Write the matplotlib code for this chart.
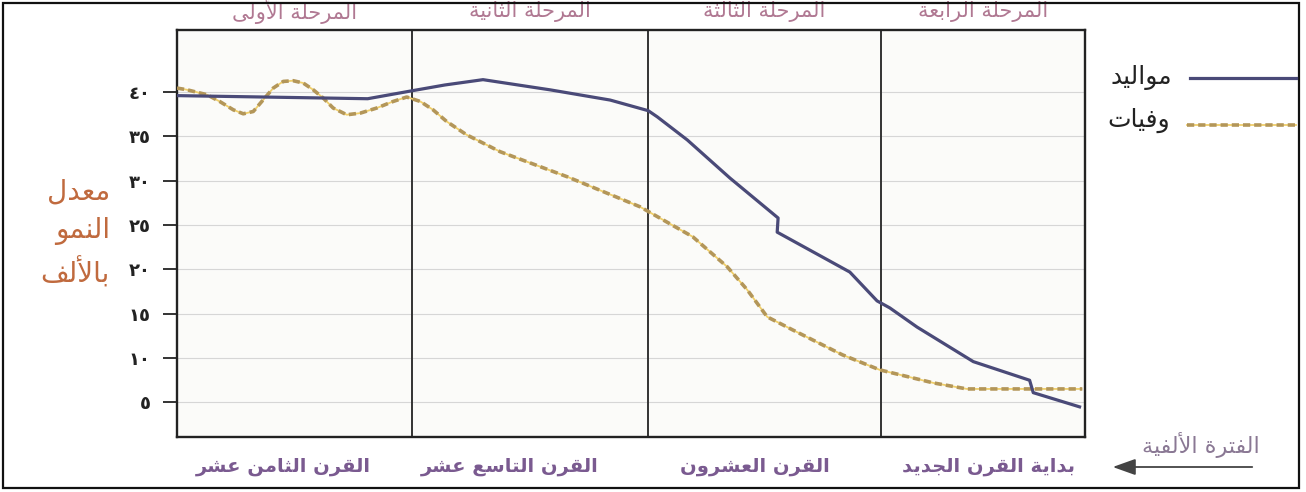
import matplotlib
matplotlib.use("Agg")
import matplotlib.pyplot as plt
from matplotlib.lines import Line2D
from matplotlib.patches import Rectangle, FancyArrowPatch

plt.rcParams['font.family'] = ['DejaVu Sans']

# ---------------- data ----------------
births_x = [0, 21.0, 25.9, 29.5, 33.7, 41.1, 47.7, 51.9, 52.9, 56.2, 60.9, 66.2, 66.1,
            74.1, 77.1, 78.5, 81.5, 87.7, 93.9, 94.3, 99.4]
births_y = [39.6, 39.25, 40.15, 40.8, 41.4, 40.25, 39.1, 37.9, 37.2, 34.6, 30.3, 25.8, 24.2,
            19.7, 16.45, 15.66, 13.5, 9.6, 7.5, 6.1, 4.5]

deaths_x = [0, 1.1, 3.3, 4.7, 6.2, 7.3, 8.4, 9.5, 10.6, 11.7, 12.8, 13.9, 15.0, 16.1, 17.2,
            18.7, 20.2, 22.0, 23.8, 25.3, 26.8, 28.2, 29.7, 31.9, 35.6, 43.0, 51.0, 56.8,
            60.6, 62.8, 65.0, 67.8, 73.3, 77.4, 83.3, 87.0, 99.7]
deaths_y = [40.45, 40.26, 39.7, 38.94, 38.0, 37.55, 37.81, 39.13, 40.45, 41.2, 41.28, 41.02,
            40.26, 39.33, 38.2, 37.44, 37.63, 38.2, 38.94, 39.44, 38.94, 38.0, 36.68, 35.18,
            33.27, 30.44, 27.06, 23.68, 20.29, 17.7, 14.65, 13.18, 10.36, 8.67, 7.2, 6.52, 6.52]

phase_bounds = [25.9, 51.9, 77.5]
phase_labels = ['المرحلة الأولى', 'المرحلة الثانية', 'المرحلة الثالثة', 'المرحلة الرابعة']
century_labels = ['القرن الثامن عشر', 'القرن التاسع عشر', 'القرن العشرون', 'بداية القرن الجديد']
y_ticks = [5, 10, 15, 20, 25, 30, 35, 40]
y_label_lines = ['معدل', 'النمو', 'بالألف']
legend_labels = ['مواليد', 'وفيات']
millennium_label = 'الفترة الألفية'

# ---------------- Arabic shaping helper ----------------
FORMS = {
    'ا': ('\uFE8D', '\uFE8E', None, None),
    'أ': ('\uFE83', '\uFE84', None, None),
    'ب': ('\uFE8F', '\uFE90', '\uFE91', '\uFE92'),
    'ة': ('\uFE93', '\uFE94', None, None),
    'ت': ('\uFE95', '\uFE96', '\uFE97', '\uFE98'),
    'ث': ('\uFE99', '\uFE9A', '\uFE9B', '\uFE9C'),
    'ج': ('\uFE9D', '\uFE9E', '\uFE9F', '\uFEA0'),
    'ح': ('\uFEA1', '\uFEA2', '\uFEA3', '\uFEA4'),
    'د': ('\uFEA9', '\uFEAA', None, None),
    'ر': ('\uFEAD', '\uFEAE', None, None),
    'س': ('\uFEB1', '\uFEB2', '\uFEB3', '\uFEB4'),
    'ش': ('\uFEB5', '\uFEB6', '\uFEB7', '\uFEB8'),
    'ع': ('\uFEC9', '\uFECA', '\uFECB', '\uFECC'),
    'ف': ('\uFED1', '\uFED2', '\uFED3', '\uFED4'),
    'ق': ('\uFED5', '\uFED6', '\uFED7', '\uFED8'),
    'ل': ('\uFEDD', '\uFEDE', '\uFEDF', '\uFEE0'),
    'م': ('\uFEE1', '\uFEE2', '\uFEE3', '\uFEE4'),
    'ن': ('\uFEE5', '\uFEE6', '\uFEE7', '\uFEE8'),
    'و': ('\uFEED', '\uFEEE', None, None),
    'ى': ('\uFEEF', '\uFEF0', None, None),
    'ي': ('\uFEF1', '\uFEF2', '\uFEF3', '\uFEF4'),
    '\uE000': ('\uFEFB', '\uFEFC', None, None),   # lam-alef
    '\uE001': ('\uFEF7', '\uFEF8', None, None),   # lam-alef hamza
}


def shape(s):
    s = s.replace('لأ', '\uE001').replace('لا', '\uE000')
    ch = list(s)
    out = []
    for i, c in enumerate(ch):
        f = FORMS.get(c)
        if f is None:
            out.append(c)
            continue
        prev = ch[i - 1] if i > 0 else None
        nxt = ch[i + 1] if i + 1 < len(ch) else None
        cp = prev in FORMS and FORMS[prev][2] is not None
        cn = f[2] is not None and nxt in FORMS
        if cp and cn:
            g = f[3]
        elif cp:
            g = f[1]
        elif cn:
            g = f[2]
        else:
            g = f[0]
        out.append(g)
    return ''.join(reversed(out))


def ar_digits(n):
    return ''.join('٠١٢٣٤٥٦٧٨٩'[int(d)] for d in str(n))


W, H = 1306, 492


def P(x, y):
    return (x / W, 1 - y / H)


# ---------------- figure ----------------
fig = plt.figure(figsize=(W / 100, H / 100), dpi=100)
fig.patch.set_facecolor('white')

ax = fig.add_axes([177 / W, 1 - 437 / H, 908 / W, 407 / H])
ax.set_facecolor('#fbfbf9')
ax.set_xlim(0, 100)
ax.set_ylim(1.1, 47.0)

for s in ax.spines.values():
    s.set_linewidth(1.7)
    s.set_color('#222222')

ax.set_xticks([])
ax.set_yticks(y_ticks)
ax.set_yticklabels([ar_digits(v) for v in y_ticks], fontsize=13, color='#222222',
                   fontweight='bold')
ax.tick_params(axis='y', length=10, width=1.4, color='#333333', pad=9)
ax.yaxis.grid(True, color='#d6d6d6', lw=0.8)
ax.set_axisbelow(True)

for b in phase_bounds:
    ax.axvline(b, color='#333333', lw=1.4, zorder=2)

# deaths: pale yellow underlay with golden-grey dashes
ax.plot(deaths_x, deaths_y, color='#f0cf6a', lw=1.3, zorder=3, solid_capstyle='butt')
ax.plot(deaths_x, deaths_y, color='#b39659', lw=2.6, zorder=4,
        linestyle=(0, (2.0, 1.1)), dash_capstyle='butt')
# births
ax.plot(births_x, births_y, color='#4a4a78', lw=2.3, zorder=5, solid_joinstyle='round')

# phase labels on top
bounds_full = [0] + phase_bounds + [100]
for i, lab in enumerate(phase_labels):
    xc = (bounds_full[i] + bounds_full[i + 1]) / 2
    ax.text(xc, 1.0 + 19 / 407, shape(lab), transform=ax.get_xaxis_transform(),
            ha='center', va='center', fontsize=15, color='#b07892', clip_on=False)

# century labels at bottom
century_px = [283, 510, 755, 988]
for xp, lab in zip(century_px, century_labels):
    fig.text(*P(xp, 466), shape(lab), ha='center', va='center', fontsize=14,
             fontweight='bold', color='#7a5a90')

# y label
for yp, lab in zip([192, 231, 273], y_label_lines):
    fig.text(*P(110, yp), shape(lab), ha='right', va='center', fontsize=20, color='#c06a3e')

# legend
fig.add_artist(Line2D([1190 / W, 1296 / W], [1 - 78 / H, 1 - 78 / H], color='#4a4a78', lw=2.3))
fig.add_artist(Line2D([1187 / W, 1296 / W], [1 - 125 / H, 1 - 125 / H], color='#f0cf6a', lw=1.3))
fig.add_artist(Line2D([1187 / W, 1296 / W], [1 - 125 / H, 1 - 125 / H], color='#b39659', lw=2.6,
                      linestyle=(0, (2.0, 1.1)), dash_capstyle='butt'))
fig.text(*P(1172, 78), shape(legend_labels[0]), ha='right', va='center', fontsize=18, color='#222222')
fig.text(*P(1170, 120), shape(legend_labels[1]), ha='right', va='center', fontsize=18, color='#222222')

# millennium label and arrow
fig.text(*P(1260, 445), shape(millennium_label), ha='right', va='center', fontsize=16, color='#8a7894')
fig.add_artist(FancyArrowPatch(P(1255, 467), P(1110, 467), arrowstyle='-|>,head_length=14,head_width=5',
                               color='#444444', lw=1.3, mutation_scale=1))

# outer border
fig.add_artist(Rectangle(P(3, 488), 1296 / W, 485 / H, fill=False, ec='#111111', lw=1.6))

fig.savefig('out.png', dpi=100)
